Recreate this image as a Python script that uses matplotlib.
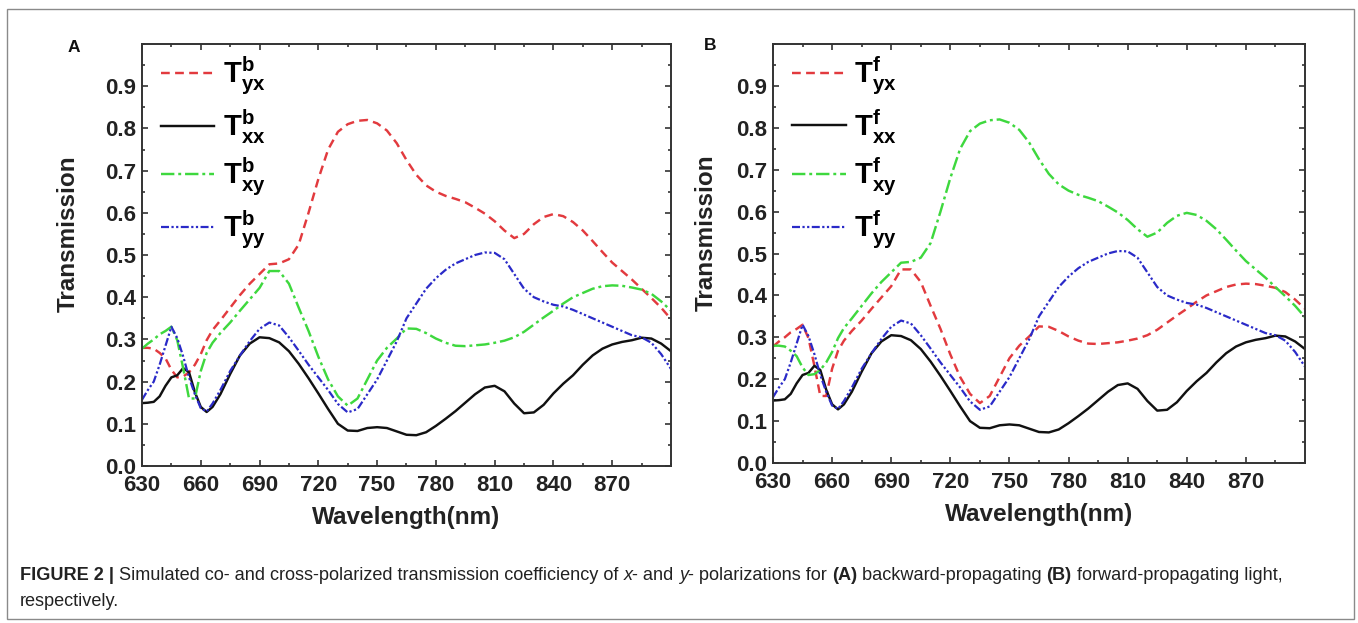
import numpy as np
import matplotlib
matplotlib.use("Agg")
import matplotlib.pyplot as plt
from matplotlib import font_manager
from matplotlib.patches import Rectangle
from matplotlib.ticker import MultipleLocator

# wavelength grid (nm) and transmission (panel A)
wl = [630, 633, 636, 639, 642, 645, 648, 651, 654, 657, 660, 663, 666, 670, 675,
      680, 685, 690, 695, 700, 705, 710, 715, 720, 725, 730, 735, 740, 745, 750,
      755, 760, 765, 770, 775, 780, 785, 790, 795, 800, 805, 810, 815, 820, 825,
      830, 835, 840, 845, 850, 855, 860, 865, 870, 875, 880, 885, 890, 895, 900]

t_yx = [0.280, 0.280, 0.278, 0.268, 0.255, 0.228, 0.210, 0.212, 0.222, 0.240,
        0.265, 0.298, 0.322, 0.345, 0.375, 0.405, 0.432, 0.455, 0.478, 0.480,
        0.490, 0.525, 0.600, 0.680, 0.750, 0.792, 0.810, 0.818, 0.820, 0.812,
        0.795, 0.765, 0.725, 0.690, 0.665, 0.650, 0.640, 0.633, 0.625, 0.612,
        0.598, 0.580, 0.558, 0.540, 0.550, 0.573, 0.590, 0.597, 0.592, 0.578,
        0.558, 0.533, 0.507, 0.482, 0.462, 0.442, 0.420, 0.398, 0.375, 0.348]

t_xx = [0.149, 0.150, 0.152, 0.165, 0.190, 0.210, 0.215, 0.232, 0.222, 0.175,
        0.140, 0.128, 0.140, 0.170, 0.218, 0.262, 0.290, 0.305, 0.303, 0.293,
        0.272, 0.242, 0.208, 0.172, 0.135, 0.100, 0.084, 0.083, 0.090, 0.092,
        0.090, 0.082, 0.074, 0.073, 0.080, 0.095, 0.112, 0.130, 0.150, 0.170,
        0.186, 0.190, 0.177, 0.148, 0.125, 0.127, 0.145, 0.172, 0.195, 0.215,
        0.240, 0.262, 0.278, 0.288, 0.294, 0.298, 0.304, 0.302, 0.290, 0.272]

t_xy = [0.278, 0.290, 0.300, 0.312, 0.320, 0.330, 0.298, 0.232, 0.160, 0.160,
        0.225, 0.268, 0.292, 0.315, 0.340, 0.368, 0.395, 0.422, 0.462, 0.462,
        0.432, 0.375, 0.320, 0.259, 0.205, 0.165, 0.143, 0.160, 0.205, 0.250,
        0.280, 0.302, 0.326, 0.325, 0.315, 0.302, 0.292, 0.285, 0.284, 0.286,
        0.288, 0.292, 0.297, 0.305, 0.318, 0.335, 0.352, 0.368, 0.385, 0.400,
        0.410, 0.420, 0.426, 0.428, 0.427, 0.423, 0.418, 0.408, 0.390, 0.368]

t_yy = [0.157, 0.180, 0.200, 0.240, 0.285, 0.330, 0.303, 0.260, 0.210, 0.170,
        0.137, 0.129, 0.148, 0.180, 0.225, 0.262, 0.296, 0.325, 0.340, 0.333,
        0.305, 0.273, 0.240, 0.210, 0.180, 0.147, 0.127, 0.135, 0.170, 0.205,
        0.250, 0.295, 0.350, 0.385, 0.420, 0.445, 0.465, 0.480, 0.490, 0.500,
        0.506, 0.505, 0.490, 0.455, 0.420, 0.400, 0.390, 0.382, 0.378, 0.370,
        0.360, 0.350, 0.340, 0.330, 0.320, 0.310, 0.305, 0.292, 0.265, 0.230]

x_ticks = [630, 660, 690, 720, 750, 780, 810, 840, 870]
y_ticks = [0.0, 0.1, 0.2, 0.3, 0.4, 0.5, 0.6, 0.7, 0.8, 0.9]

RED = '#e23a3e'
GREEN = '#3ed83e'
BLUE = '#2a2ac8'
BLACK = '#111111'

names = {f.name for f in font_manager.fontManager.ttflist}
cap_font = 'Liberation Sans Narrow' if 'Liberation Sans Narrow' in names else 'Liberation Sans'

plt.rcParams['font.family'] = ['Liberation Sans', 'DejaVu Sans']
plt.rcParams['mathtext.fontset'] = 'custom'
plt.rcParams['mathtext.bf'] = 'Liberation Sans:bold'
plt.rcParams['mathtext.rm'] = 'Liberation Sans:bold'
plt.rcParams['mathtext.it'] = 'Liberation Sans:bold'

W, H = 1358, 623
fig = plt.figure(figsize=(W / 100, H / 100), dpi=100)

fig.patches.append(Rectangle((7 / W, 1 - 619 / H), (1354 - 7) / W, (619 - 9) / H,
                             transform=fig.transFigure, fill=False,
                             edgecolor='#8a8a8a', linewidth=1.0))


def panel(rect, letter, sup, series, letter_xy, ylab_x):
    ax = fig.add_axes(rect)
    styles = [
        ('yx', RED, (0, (3.6, 2.2)), 1.75),
        ('xx', BLACK, '-', 1.75),
        ('xy', GREEN, (0, (5.5, 1.6, 1.2, 1.6)), 1.75),
        ('yy', BLUE, (0, (3.6, 1.1, 1.0, 1.1, 1.0, 1.1)), 1.6),
    ]
    for (sub, col, ls, lw), y in zip(styles, series):
        ax.plot(wl, y, color=col, linestyle=ls, linewidth=lw,
                label=r'$\mathbf{T^{%s}_{%s}}$' % (sup, sub))

    ax.set_xlim(630, 900)
    ax.set_ylim(0, 1.0)
    ax.set_xticks(x_ticks)
    ax.set_yticks(y_ticks)
    ax.set_yticklabels(['%.1f' % v for v in y_ticks])
    ax.xaxis.set_minor_locator(MultipleLocator(15))
    ax.yaxis.set_minor_locator(MultipleLocator(0.05))
    ax.tick_params(which='both', direction='in', top=True, right=True,
                   width=1.2, color='#333333')
    ax.tick_params(which='major', length=4.5)
    ax.tick_params(which='minor', length=2.2)
    ax.tick_params(axis='x', labelsize=16, pad=6.5)
    ax.tick_params(axis='y', labelsize=16, pad=4)
    for lab in ax.get_xticklabels() + ax.get_yticklabels():
        lab.set_fontweight('bold')
        lab.set_color('#222222')
    for s in ax.spines.values():
        s.set_linewidth(1.4)
        s.set_color('#333333')

    ax.set_xlabel('Wavelength(nm)', fontsize=17.5, fontweight='bold', color='#222222')
    ax.set_ylabel('Transmission', fontsize=17.5, fontweight='bold', color='#222222')
    ax.xaxis.set_label_coords(0.5, -0.095)
    ax.yaxis.set_label_coords(ylab_x, 0.55)

    ax.legend(loc='upper left', bbox_to_anchor=(0.035, 0.975), frameon=False,
              fontsize=21, handlelength=1.85, handletextpad=0.3,
              labelspacing=0.35, borderpad=0, borderaxespad=0)

    fig.text(letter_xy[0] / W, 1 - letter_xy[1] / H, letter, fontsize=12.5,
             fontweight='bold', ha='center', va='center', color='#111111')
    return ax


panel([142 / W, 1 - 466 / H, 529 / W, 422 / H], 'A', 'b',
      [t_yx, t_xx, t_xy, t_yy], (74, 47), -0.117)
# forward case: co-polarized curves unchanged, cross-polarized curves swap
panel([773 / W, 1 - 463 / H, 532 / W, 419 / H], 'B', 'f',
      [t_xy, t_xx, t_yx, t_yy], (710, 46), -0.103)

# caption, drawn piece by piece to mix bold / italic
caption = [
    ('FIGURE 2 |', 'bold', 'normal'),
    (' Simulated co- and cross-polarized transmission coefficiency of ', 'normal', 'normal'),
    ('x', 'normal', 'italic'),
    ('- and ', 'normal', 'normal'),
    ('y', 'normal', 'italic'),
    ('- polarizations for ', 'normal', 'normal'),
    ('(A)', 'bold', 'normal'),
    (' backward-propagating ', 'normal', 'normal'),
    ('(B)', 'bold', 'normal'),
    (' forward-propagating light,', 'normal', 'normal'),
]
renderer = fig.canvas.get_renderer()
x = 20
for txt, wgt, sty in caption:
    t = fig.text(x / W, 1 - 575 / H, txt, fontsize=13.1, family=cap_font,
                 fontweight=wgt, fontstyle=sty, va='center', ha='left', color='#222222')
    x = t.get_window_extent(renderer).x1
fig.text(20 / W, 1 - 602 / H, 'respectively.', fontsize=13.1, family=cap_font,
         va='center', ha='left', color='#222222')

fig.savefig('out.png', dpi=100)
